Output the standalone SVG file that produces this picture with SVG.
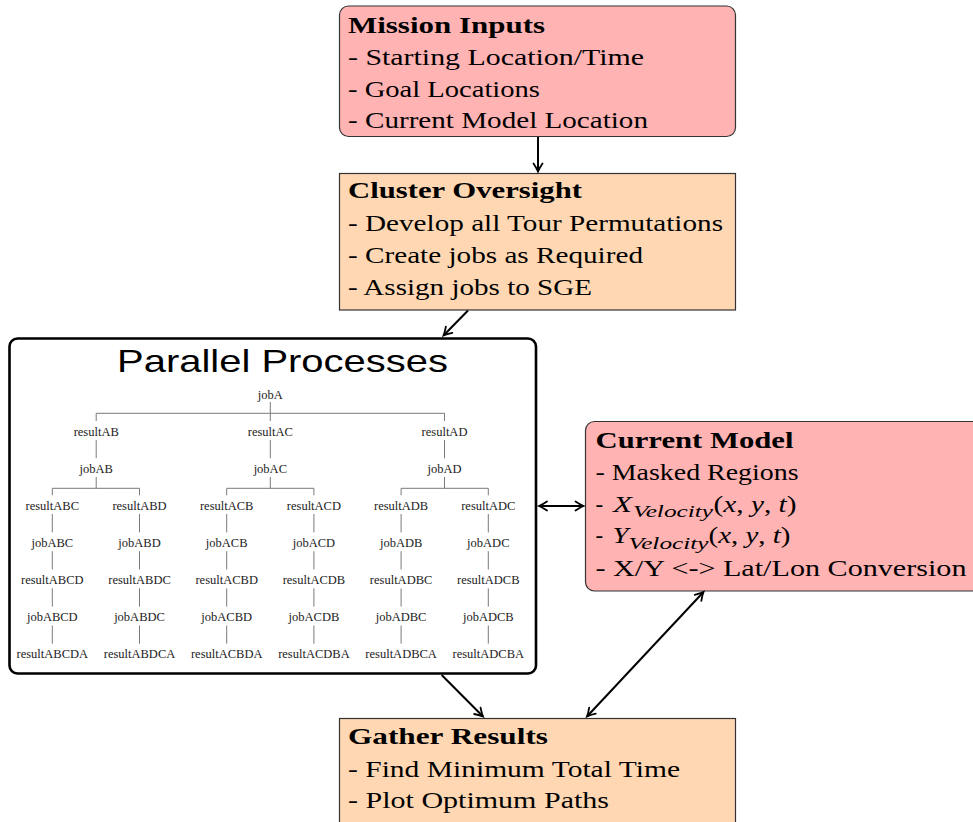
<svg xmlns="http://www.w3.org/2000/svg" width="973" height="822" viewBox="0 0 973 822">
  <style>
    .box-red { fill: #ffb3b3; stroke: #333; stroke-width: 1.2; }
    .box-orange { fill: #ffd8b3; stroke: #333; stroke-width: 1.2; }
    .box-tree { fill: #ffffff; stroke: #000; stroke-width: 2.6; }
    .t { font-family: "Liberation Serif", "Times New Roman", serif; font-size: 23px; fill: #000; }
    .b { font-weight: bold; }
    .i { font-style: italic; }
    .sub { font-family: "Liberation Serif", "Times New Roman", serif; font-size: 16px; font-style: italic; fill: #000; }
    .title { font-family: "Liberation Sans", Arial, sans-serif; font-size: 32px; fill: #000; }
    .tn { font-family: "Liberation Serif", "Times New Roman", serif; font-size: 12.5px; fill: #222; text-anchor: middle; }
    .tl { stroke: #7a7a7a; stroke-width: 1; fill: none; }
    .conn { stroke: #000; stroke-width: 2; fill: none; }
  </style>
  <defs>
    <marker id="tip" markerUnits="userSpaceOnUse" markerWidth="14" markerHeight="14" viewBox="-10 -7 12 14" refX="0" refY="0" orient="auto-start-reverse">
      <path d="M-8,-4.5 Q-3,-1.2 0,0 Q-3,1.2 -8,4.5" fill="none" stroke="#000" stroke-width="1.8" stroke-linecap="round"/>
    </marker>
  </defs>

  <!-- Mission Inputs -->
  <g id="mission-inputs">
    <rect class="box-red" x="339.5" y="6" width="396" height="130.5" rx="9"/>
    <text class="t b" x="348" y="33" textLength="197" lengthAdjust="spacingAndGlyphs">Mission Inputs</text>
    <text class="t" x="348" y="64.5" textLength="296" lengthAdjust="spacingAndGlyphs">- Starting Location/Time</text>
    <text class="t" x="348" y="96.5" textLength="192" lengthAdjust="spacingAndGlyphs">- Goal Locations</text>
    <text class="t" x="348" y="128" textLength="300" lengthAdjust="spacingAndGlyphs">- Current Model Location</text>
  </g>

  <!-- Cluster Oversight -->
  <g id="cluster-oversight">
    <rect class="box-orange" x="339.5" y="173.5" width="396" height="136.5"/>
    <text class="t b" x="348" y="198" textLength="234" lengthAdjust="spacingAndGlyphs">Cluster Oversight</text>
    <text class="t" x="348" y="231" textLength="375" lengthAdjust="spacingAndGlyphs">- Develop all Tour Permutations</text>
    <text class="t" x="348" y="262.5" textLength="295" lengthAdjust="spacingAndGlyphs">- Create jobs as Required</text>
    <text class="t" x="348" y="294.5" textLength="244" lengthAdjust="spacingAndGlyphs">- Assign jobs to SGE</text>
  </g>

  <!-- Parallel Processes, with the job/result tree -->
  <g id="parallel-processes">
    <rect class="box-tree" x="9.5" y="338.5" width="526.5" height="335" rx="8"/>
    <text class="title" x="117" y="372" textLength="331" lengthAdjust="spacingAndGlyphs">Parallel Processes</text>

    <g id="job-tree">
      <g class="tl">
        <!-- jobA fork -->
        <path d="M270.3,402 V413.3 M96.2,413.3 H444.5 M96.2,413.3 V421 M270.3,413.3 V421 M444.5,413.3 V421"/>
        <!-- resultAx to jobAx -->
        <path d="M96.2,440 V458.2 M270.3,440 V458.2 M444.5,440 V458.2"/>
        <!-- jobAx forks -->
        <path d="M96.2,477 V488.3 M52.3,488.3 H139.5 M52.3,488.3 V495.3 M139.5,488.3 V495.3"/>
        <path d="M270.3,477 V488.3 M226.7,488.3 H313.9 M226.7,488.3 V495.3 M313.9,488.3 V495.3"/>
        <path d="M444.5,477 V488.3 M401.1,488.3 H488.3 M401.1,488.3 V495.3 M488.3,488.3 V495.3"/>
        <!-- lower chains -->
        <path d="M52.3,514 V532.4 M52.3,551.2 V569.5 M52.3,588.4 V606.6 M52.3,625.5 V643.7"/>
        <path d="M139.5,514 V532.4 M139.5,551.2 V569.5 M139.5,588.4 V606.6 M139.5,625.5 V643.7"/>
        <path d="M226.7,514 V532.4 M226.7,551.2 V569.5 M226.7,588.4 V606.6 M226.7,625.5 V643.7"/>
        <path d="M313.9,514 V532.4 M313.9,551.2 V569.5 M313.9,588.4 V606.6 M313.9,625.5 V643.7"/>
        <path d="M401.1,514 V532.4 M401.1,551.2 V569.5 M401.1,588.4 V606.6 M401.1,625.5 V643.7"/>
        <path d="M488.3,514 V532.4 M488.3,551.2 V569.5 M488.3,588.4 V606.6 M488.3,625.5 V643.7"/>
      </g>

      <text class="tn" x="270.3" y="398.5">jobA</text>

      <text class="tn" x="96.2" y="435.6">resultAB</text>
      <text class="tn" x="270.3" y="435.6">resultAC</text>
      <text class="tn" x="444.5" y="435.6">resultAD</text>

      <text class="tn" x="96.2" y="472.7">jobAB</text>
      <text class="tn" x="270.3" y="472.7">jobAC</text>
      <text class="tn" x="444.5" y="472.7">jobAD</text>

      <text class="tn" x="52.3" y="509.8">resultABC</text>
      <text class="tn" x="139.5" y="509.8">resultABD</text>
      <text class="tn" x="226.7" y="509.8">resultACB</text>
      <text class="tn" x="313.9" y="509.8">resultACD</text>
      <text class="tn" x="401.1" y="509.8">resultADB</text>
      <text class="tn" x="488.3" y="509.8">resultADC</text>

      <text class="tn" x="52.3" y="546.9">jobABC</text>
      <text class="tn" x="139.5" y="546.9">jobABD</text>
      <text class="tn" x="226.7" y="546.9">jobACB</text>
      <text class="tn" x="313.9" y="546.9">jobACD</text>
      <text class="tn" x="401.1" y="546.9">jobADB</text>
      <text class="tn" x="488.3" y="546.9">jobADC</text>

      <text class="tn" x="52.3" y="584">resultABCD</text>
      <text class="tn" x="139.5" y="584">resultABDC</text>
      <text class="tn" x="226.7" y="584">resultACBD</text>
      <text class="tn" x="313.9" y="584">resultACDB</text>
      <text class="tn" x="401.1" y="584">resultADBC</text>
      <text class="tn" x="488.3" y="584">resultADCB</text>

      <text class="tn" x="52.3" y="621.1">jobABCD</text>
      <text class="tn" x="139.5" y="621.1">jobABDC</text>
      <text class="tn" x="226.7" y="621.1">jobACBD</text>
      <text class="tn" x="313.9" y="621.1">jobACDB</text>
      <text class="tn" x="401.1" y="621.1">jobADBC</text>
      <text class="tn" x="488.3" y="621.1">jobADCB</text>

      <text class="tn" x="52.3" y="658.2">resultABCDA</text>
      <text class="tn" x="139.5" y="658.2">resultABDCA</text>
      <text class="tn" x="226.7" y="658.2">resultACBDA</text>
      <text class="tn" x="313.9" y="658.2">resultACDBA</text>
      <text class="tn" x="401.1" y="658.2">resultADBCA</text>
      <text class="tn" x="488.3" y="658.2">resultADCBA</text>
    </g>
  </g>

  <!-- Current Model (runs past the right edge) -->
  <g id="current-model">
    <rect class="box-red" x="585.5" y="421.5" width="400" height="169.5" rx="9"/>
    <text class="t b" x="595.5" y="447.5" textLength="198" lengthAdjust="spacingAndGlyphs">Current Model</text>
    <text class="t" x="595.5" y="480" textLength="203" lengthAdjust="spacingAndGlyphs">- Masked Regions</text>
    <text class="t" x="595.5" y="511.7">-</text>
    <text class="t i" x="613" y="511.7" textLength="19" lengthAdjust="spacingAndGlyphs">X</text>
    <text class="sub" x="633" y="517" textLength="80" lengthAdjust="spacingAndGlyphs">Velocity</text>
    <text class="t" x="713.5" y="511.7" textLength="83" lengthAdjust="spacingAndGlyphs">(<tspan class="i">x</tspan>, <tspan class="i">y</tspan>, <tspan class="i">t</tspan>)</text>
    <text class="t" x="595.5" y="543.3">-</text>
    <text class="t i" x="612.5" y="543.3" textLength="16" lengthAdjust="spacingAndGlyphs">Y</text>
    <text class="sub" x="628.5" y="548.6" textLength="80" lengthAdjust="spacingAndGlyphs">Velocity</text>
    <text class="t" x="708.5" y="543.3" textLength="82" lengthAdjust="spacingAndGlyphs">(<tspan class="i">x</tspan>, <tspan class="i">y</tspan>, <tspan class="i">t</tspan>)</text>
    <text class="t" x="595.5" y="575.7" textLength="371" lengthAdjust="spacingAndGlyphs">- X/Y &lt;-&gt; Lat/Lon Conversion</text>
  </g>

  <!-- Gather Results (runs past the bottom edge) -->
  <g id="gather-results">
    <rect class="box-orange" x="339.5" y="718.5" width="396" height="120"/>
    <text class="t b" x="348" y="744" textLength="200" lengthAdjust="spacingAndGlyphs">Gather Results</text>
    <text class="t" x="348" y="777" textLength="332" lengthAdjust="spacingAndGlyphs">- Find Minimum Total Time</text>
    <text class="t" x="348" y="808" textLength="261" lengthAdjust="spacingAndGlyphs">- Plot Optimum Paths</text>
  </g>

  <!-- Connectors -->
  <g id="connectors">
    <path class="conn" d="M538,137 L538,171.5" marker-end="url(#tip)"/>
    <path class="conn" d="M468,310.5 L443.5,335.5" marker-end="url(#tip)"/>
    <path class="conn" d="M539,506 L583.5,506" marker-start="url(#tip)" marker-end="url(#tip)"/>
    <path class="conn" d="M441.7,675 L483,716.5" marker-end="url(#tip)"/>
    <path class="conn" d="M703.5,592 L587,716.5" marker-start="url(#tip)" marker-end="url(#tip)"/>
  </g>
</svg>
